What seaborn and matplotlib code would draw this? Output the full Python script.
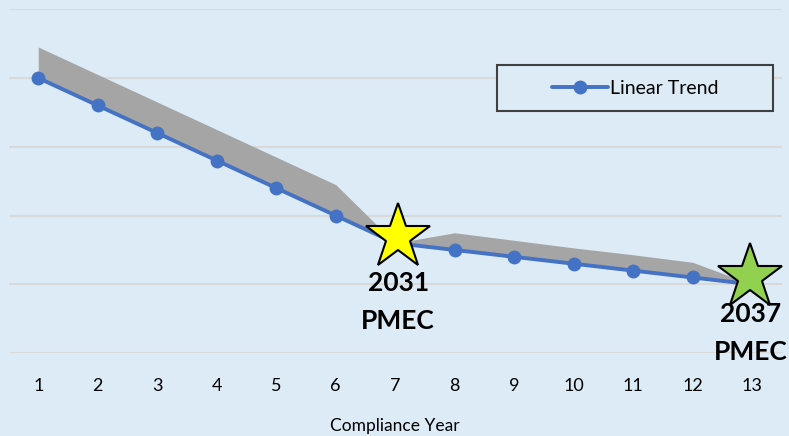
import pandas as pd
import seaborn as sns
import matplotlib.pyplot as plt
from matplotlib.patches import Rectangle

# Chart data
years = [1, 2, 3, 4, 5, 6, 7, 8, 9, 10, 11, 12, 13]
linear_trend = [4.0, 3.6, 3.2, 2.8, 2.4, 2.0, 1.6, 1.5, 1.4, 1.3, 1.2, 1.1, 1.0]
band_upper = [4.45, 4.05, 3.65, 3.25, 2.85, 2.45, 1.6, 1.75, 1.64, 1.53, 1.43, 1.32, 1.0]
milestone_years = [7.05, 12.97]
milestone_values = [1.69, 1.11]
milestone_labels = ["2031\nPMEC", "2037\nPMEC"]
milestone_label_y = [1.19, 0.75]
milestone_colors = ["#FFFF00", "#92D050"]

df = pd.DataFrame({"Compliance Year": years, "Linear Trend": linear_trend})

bg = "#DDEBF7"
sns.set_style("white", {"axes.facecolor": bg, "figure.facecolor": bg})
plt.rcParams["font.family"] = ["Lato", "DejaVu Sans"]
plt.rcParams["text.color"] = "black"
plt.rcParams["xtick.color"] = "black"
plt.rcParams["axes.labelcolor"] = "black"

fig = plt.figure(figsize=(7.89, 4.36), dpi=100)
ax = fig.add_axes([0.0108, 0.190, 0.9802, 0.789])

# Gray band above the trend line
ax.fill_between(years, linear_trend, band_upper, color="#A5A5A5", linewidth=0, zorder=2)

# Trend line with markers
sns.lineplot(data=df, x="Compliance Year", y="Linear Trend", ax=ax, color="#4472C4",
             linewidth=2.8, marker="o", markersize=10, markeredgewidth=0,
             label="Linear Trend", zorder=3)

# Milestone stars and labels
for mx, my, ly, lab, col in zip(milestone_years, milestone_values, milestone_label_y,
                                milestone_labels, milestone_colors):
    ax.plot(mx, my, marker="*", markersize=49, markerfacecolor=col,
            markeredgecolor="black", markeredgewidth=1.5, linestyle="none", zorder=4, clip_on=False)
    ax.text(mx, ly, lab, ha="center", va="top", fontsize=19, fontweight="bold",
            linespacing=1.7, zorder=5, clip_on=False)

ax.set_xlim(0.5, 13.5)
ax.set_ylim(0, 5)
ax.set_xticks(years)
ax.set_xticklabels([str(y) for y in years], fontsize=13)
ax.set_yticks([0, 1, 2, 3, 4, 5])
ax.set_yticklabels([])
ax.tick_params(axis="both", length=0, pad=18)
ax.grid(axis="y", color="#D9D9D9", linewidth=1.5)
ax.set_axisbelow(True)
for s in ax.spines.values():
    s.set_visible(False)
ax.set_ylabel("")
ax.set_xlabel("Compliance Year", fontsize=12.5, labelpad=17)

# Legend with a separate frame
frame = Rectangle((0.6316, 0.7035), 0.357, 0.1337, transform=ax.transAxes,
                  facecolor=bg, edgecolor="#404040", linewidth=1.5, zorder=6)
ax.add_patch(frame)
leg = ax.legend(loc="center", bbox_to_anchor=(0.81, 0.770), fontsize=14,
                frameon=False, handlelength=2.9, borderpad=0, handletextpad=0.1)
leg.set_zorder(7)

fig.savefig("out.png", dpi=100, facecolor=bg)
